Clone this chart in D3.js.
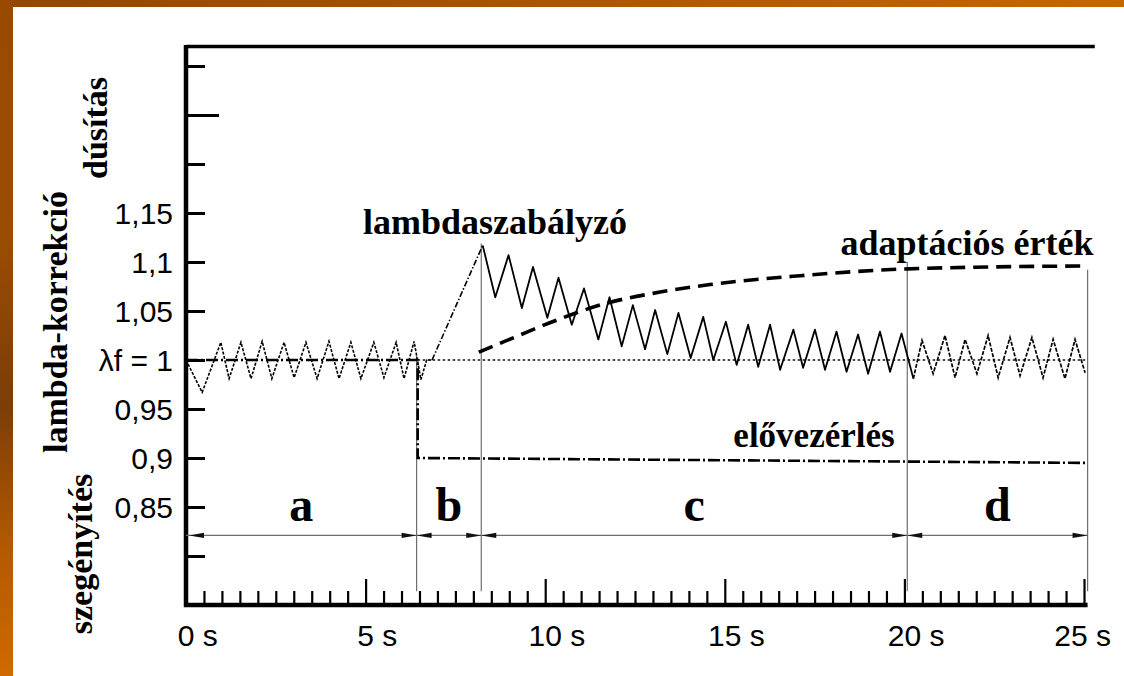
<!DOCTYPE html>
<html>
<head>
<meta charset="utf-8">
<script src="https://cdn.jsdelivr.net/npm/d3@7"></script>
<style>
  html, body { margin: 0; padding: 0; background: #fff; }
  svg { display: block; }
</style>
</head>
<body>
<svg id="chart" width="1124" height="676"></svg>
<script>
// ---- values -------------------------------------------------------------
// time axis (s) labels and y ticks (lambda correction factor)
const xTickValues = [0, 5, 10, 15, 20, 25];
const yTickValues = [0.8, 0.85, 0.9, 0.95, 1.0, 1.05, 1.1, 1.15, 1.2, 1.25, 1.3];
const yLabelValues = [1.15, 1.1, 1.05, 1.0, 0.95, 0.9, 0.85];
const yLabelTexts = ["1,15", "1,1", "1,05", "λf = 1", "0,95", "0,9", "0,85"];

// phases a..d (boundary times in s) and the height each boundary line reaches
const phaseBounds = [0, 6.42, 8.22, 20.08, 25.1];
const phaseNames = ["a", "b", "c", "d"];
const boundaryTops = [1.004, 1.119, 1.1, 1.092];
const phaseArrowLevel = 0.821;

// lambda controller, phase a: steady oscillation around 1
const ctrlA = [
  [0, 1.0], [0.45, 0.967], [0.97, 1.018], [1.20, 0.981], [1.53, 1.018], [1.81, 0.981],
  [2.12, 1.019], [2.39, 0.981], [2.73, 1.018], [3.01, 0.982], [3.34, 1.018], [3.65, 0.981],
  [3.98, 1.019], [4.26, 0.981], [4.59, 1.018], [4.87, 0.981], [5.23, 1.018], [5.51, 0.982],
  [5.85, 1.018], [6.07, 0.981], [6.35, 1.019], [6.54, 0.980], [6.70, 1.0], [6.85, 1.0]
];
// phase b: controller ramps up after the feed-forward step
const ctrlB = [[6.85, 1.0], [8.26, 1.117]];
// phase c: decaying oscillation while adaptation takes over
const ctrlC = [
  [8.26, 1.117], [8.61, 1.064], [8.98, 1.107], [9.35, 1.053], [9.66, 1.095], [10.06, 1.043],
  [10.37, 1.084], [10.74, 1.036], [11.08, 1.073], [11.48, 1.021], [11.79, 1.064], [12.13, 1.014],
  [12.44, 1.056], [12.78, 1.011], [13.06, 1.051], [13.40, 1.006], [13.71, 1.048], [14.05, 1.002],
  [14.40, 1.044], [14.68, 1.000], [15.03, 1.039], [15.33, 0.995], [15.65, 1.036], [15.93, 0.993],
  [16.26, 1.036], [16.54, 0.990], [16.91, 1.031], [17.18, 0.992], [17.51, 1.031], [17.79, 0.990],
  [18.11, 1.029], [18.39, 0.988], [18.71, 1.026], [18.99, 0.986], [19.32, 1.029], [19.60, 0.988],
  [19.92, 1.027], [20.25, 0.981]
];
// phase d: steady oscillation again
const ctrlD = [
  [20.25, 0.981], [20.49, 1.020], [20.80, 0.986], [21.13, 1.025], [21.41, 0.982], [21.69, 1.021],
  [22.02, 0.986], [22.33, 1.025], [22.61, 0.982], [22.94, 1.023], [23.22, 0.984], [23.55, 1.023],
  [23.86, 0.982], [24.14, 1.021], [24.47, 0.981], [24.75, 1.021], [25.03, 0.987]
];
// learned adaptation value
const adaptation = [
  [8.15, 1.008], [9.2, 1.024], [10.13, 1.038], [11.71, 1.058], [13.0, 1.068],
  [14.59, 1.077], [17.1, 1.086], [20.1, 1.093], [25.1, 1.096]
];
// feed-forward (pre-control) value
const feedForward = [[0, 1.0], [6.45, 1.0], [6.45, 0.9], [25.1, 0.895]];
// stoichiometric reference line
const reference = [[6.45, 1.0], [25.1, 1.0]];

// ---- layout -------------------------------------------------------------
const svg = d3.select("#chart");
const W = 1124, H = 676;

const x = d3.scaleLinear().domain([0, 25]).range([186, 1084]);
const y = d3.scaleLinear().domain([0.75, 1.32]).range([605, 46.4]);

// slide background frame
const defs = svg.append("defs");
const gTop = defs.append("linearGradient").attr("id", "frameTop").attr("x1", 0).attr("x2", 1).attr("y1", 0).attr("y2", 0);
gTop.append("stop").attr("offset", 0).attr("stop-color", "#944600");
gTop.append("stop").attr("offset", 0.5).attr("stop-color", "#ad5500");
gTop.append("stop").attr("offset", 1).attr("stop-color", "#c96500");
const gLeft = defs.append("linearGradient").attr("id", "frameLeft").attr("x1", 0).attr("x2", 0).attr("y1", 0).attr("y2", 1);
gLeft.append("stop").attr("offset", 0).attr("stop-color", "#9a4a00");
gLeft.append("stop").attr("offset", 0.35).attr("stop-color", "#9a4c02");
gLeft.append("stop").attr("offset", 0.6).attr("stop-color", "#7c3d08");
gLeft.append("stop").attr("offset", 0.8).attr("stop-color", "#b15800");
gLeft.append("stop").attr("offset", 1).attr("stop-color", "#d06a00");

svg.append("rect").attr("width", W).attr("height", H).attr("fill", "#fff");
svg.append("rect").attr("x", 0).attr("y", 0).attr("width", W).attr("height", 7).attr("fill", "url(#frameTop)");
svg.append("rect").attr("x", 0).attr("y", 0).attr("width", 13).attr("height", H).attr("fill", "url(#frameLeft)");

const serif = "'Liberation Serif', 'Times New Roman', serif";
const sans = "'Liberation Sans', Arial, Helvetica, sans-serif";

// ---- frame & axes -------------------------------------------------------
// top border line of the plot
svg.append("line")
  .attr("x1", x(0)).attr("x2", x(25.3))
  .attr("y1", y(1.32)).attr("y2", y(1.32))
  .attr("stroke", "#000").attr("stroke-width", 3.5);

// time axis with half-second ticks pointing up
const minorTicks = d3.range(1, 51).map(i => i / 2);
const xAxis = svg.append("g")
  .attr("transform", `translate(0,${y(0.75)})`)
  .call(d3.axisBottom(x).tickValues(minorTicks).tickSizeInner(-14).tickSizeOuter(0).tickFormat(""));
xAxis.select(".domain").attr("stroke", "#000").attr("stroke-width", 4.5)
  .attr("d", `M${x(0) - 2},0H${x(25.1)}`);
xAxis.selectAll(".tick line")
  .attr("stroke", "#000").attr("stroke-width", 2.2)
  .attr("y2", d => (d % 5 === 0 ? -26 : -14));

// lambda axis with ticks pointing right
const yAxis = svg.append("g")
  .attr("transform", `translate(${x(0)},0)`)
  .call(d3.axisRight(y).tickValues(yTickValues).tickSizeOuter(0).tickFormat(""));
yAxis.select(".domain").attr("stroke", "#000").attr("stroke-width", 4.5)
  .attr("d", `M0,${y(1.32) - 1.5}V${y(0.75) + 2}`);
yAxis.selectAll(".tick line")
  .attr("stroke", "#000").attr("stroke-width", 3)
  .attr("x2", d => (Math.abs(d - 1.25) < 1e-9 ? 33 : 19));

// lambda tick labels
svg.append("g").selectAll("text")
  .data(yLabelValues)
  .join("text")
  .attr("x", 173)
  .attr("y", d => y(d))
  .attr("dy", "0.36em")
  .attr("text-anchor", "end")
  .attr("font-family", sans)
  .attr("font-size", 30)
  .attr("fill", "#000")
  .text((d, i) => yLabelTexts[i]);

// time tick labels: the number sits centred on its tick
const xLabels = svg.append("g");
xTickValues.forEach(v => {
  const t = xLabels.append("text")
    .attr("font-family", sans).attr("font-size", 30).attr("fill", "#000")
    .attr("y", 646)
    .text(`${v}`);
  const numW = t.node().getComputedTextLength();
  t.text(`${v} s`);
  const fullW = t.node().getComputedTextLength();
  let left = x(v) - numW / 2;
  if (left + fullW > 1111) left = 1111 - fullW;
  t.attr("x", left);
});

// ---- phase boundaries & dimension arrows --------------------------------
const gray = "#6f6f6f";
svg.append("g").selectAll("line")
  .data(phaseBounds.slice(1))
  .join("line")
  .attr("x1", d => x(d)).attr("x2", d => x(d))
  .attr("y1", (d, i) => y(boundaryTops[i]))
  .attr("y2", y(0.764))
  .attr("stroke", gray).attr("stroke-width", 1.2);

svg.append("line")
  .attr("x1", x(0)).attr("x2", x(phaseBounds[phaseBounds.length - 1]))
  .attr("y1", y(phaseArrowLevel)).attr("y2", y(phaseArrowLevel))
  .attr("stroke", gray).attr("stroke-width", 1.2);

// arrowheads: each phase span points outward to its two boundaries
const heads = [];
for (let i = 0; i < phaseNames.length; i++) {
  heads.push({ t: phaseBounds[i], dir: -1 });
  heads.push({ t: phaseBounds[i + 1], dir: 1 });
}
const ay = y(phaseArrowLevel);
svg.append("g").selectAll("path")
  .data(heads)
  .join("path")
  .attr("d", d => {
    const tip = x(d.t) + (d.t === 0 ? 3 : 0);
    const back = tip - d.dir * 15;
    return `M${tip},${ay}L${back},${ay - 2.6}L${back},${ay + 2.6}Z`;
  })
  .attr("fill", "#111");

svg.append("g").selectAll("text")
  .data(phaseNames)
  .join("text")
  .attr("x", (d, i) => (x(phaseBounds[i]) + x(phaseBounds[i + 1])) / 2)
  .attr("y", 521)
  .attr("text-anchor", "middle")
  .attr("font-family", serif).attr("font-weight", "bold").attr("font-size", 48)
  .attr("fill", "#000")
  .text(d => d);

// ---- curves -------------------------------------------------------------
const line = d3.line().x(d => x(d[0])).y(d => y(d[1]));
const smooth = d3.line().x(d => x(d[0])).y(d => y(d[1])).curve(d3.curveMonotoneX);

// reference lambda = 1
svg.append("path").attr("d", line(reference))
  .attr("fill", "none").attr("stroke", "#111").attr("stroke-width", 1.6)
  .attr("stroke-dasharray", "2.5,2.5");

// feed-forward (dash-dot)
svg.append("path").attr("d", line(feedForward))
  .attr("fill", "none").attr("stroke", "#000").attr("stroke-width", 2.6)
  .attr("stroke-dasharray", "12,3,2,3");

// adaptation value (long dashes)
svg.append("path").attr("d", smooth(adaptation))
  .attr("fill", "none").attr("stroke", "#000").attr("stroke-width", 3.6)
  .attr("stroke-dasharray", "15,8");

// lambda controller
svg.append("path").attr("d", line(ctrlA))
  .attr("fill", "none").attr("stroke", "#000").attr("stroke-width", 1.6)
  .attr("stroke-dasharray", "3,1.5");
svg.append("path").attr("d", line(ctrlB))
  .attr("fill", "none").attr("stroke", "#000").attr("stroke-width", 1.6)
  .attr("stroke-dasharray", "6,2,1.5,2");
svg.append("path").attr("d", line(ctrlC))
  .attr("fill", "none").attr("stroke", "#000").attr("stroke-width", 1.8)
  .attr("stroke-linejoin", "round");
svg.append("path").attr("d", line(ctrlD))
  .attr("fill", "none").attr("stroke", "#000").attr("stroke-width", 1.7)
  .attr("stroke-dasharray", "4,1.5");

// ---- annotations ----------------------------------------------------------
const note = (txt, cx, by, size) => svg.append("text")
  .attr("x", cx).attr("y", by).attr("text-anchor", "middle")
  .attr("font-family", serif).attr("font-weight", "bold").attr("font-size", size)
  .attr("fill", "#000").text(txt);
note("lambdaszabályzó", 495, 234, 36);
note("adaptációs érték", 967, 255, 36);
note("elővezérlés", 814, 447, 35);

// rotated axis titles
const vTitle = (txt, bx, cy) => svg.append("text")
  .attr("transform", `translate(${bx},${cy}) rotate(-90)`)
  .attr("text-anchor", "middle")
  .attr("font-family", serif).attr("font-weight", "bold").attr("font-size", 34)
  .attr("fill", "#000").text(txt);
vTitle("dúsítás", 107, 128);
vTitle("lambda-korrekció", 67, 322);
vTitle("szegényítés", 92, 554);
</script>
</body>
</html>
